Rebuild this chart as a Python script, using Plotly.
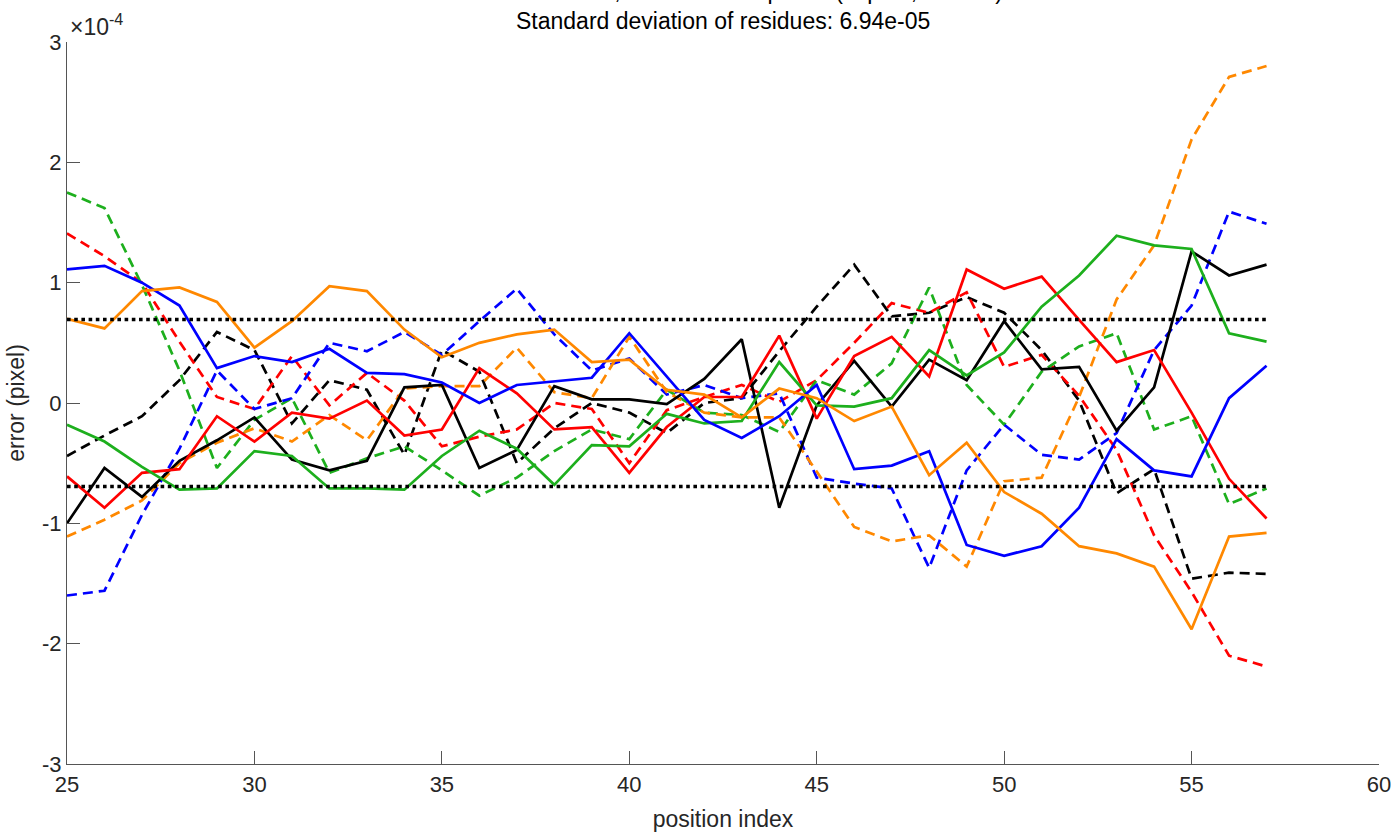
import plotly.graph_objects as go

x_idx = list(range(25, 58))
scale = 1e-4
std_res = 0.694

black_solid = [-1.0, -0.54, -0.78, -0.48, -0.31, -0.12, -0.47, -0.56, -0.48, 0.13, 0.15, -0.54, -0.39, 0.14, 0.03, 0.03, -0.01, 0.2, 0.53, -0.87, -0.02, 0.35, -0.03, 0.36, 0.19, 0.68, 0.28, 0.30, -0.23, 0.13, 1.26, 1.06, 1.15]
black_dash = [-0.44, -0.27, -0.11, 0.19, 0.59, 0.44, -0.17, 0.19, 0.11, -0.43, 0.44, 0.26, -0.5, -0.21, 0.0, -0.08, -0.25, 0.0, 0.04, 0.43, 0.8, 1.15, 0.72, 0.75, 0.88, 0.75, 0.44, 0.02, -0.75, -0.55, -1.46, -1.41, -1.42]
red_solid = [-0.61, -0.87, -0.58, -0.55, -0.11, -0.32, -0.08, -0.13, 0.02, -0.27, -0.22, 0.29, 0.08, -0.22, -0.2, -0.58, -0.2, 0.05, 0.05, 0.56, -0.13, 0.39, 0.55, 0.22, 1.11, 0.95, 1.05, 0.69, 0.34, 0.44, -0.08, -0.63, -0.96]
red_dash = [1.41, 1.22, 1.0, 0.51, 0.05, -0.05, 0.39, -0.02, 0.25, 0.02, -0.36, -0.28, -0.22, 0.0, -0.05, -0.5, -0.06, 0.05, 0.15, 0.01, 0.19, 0.5, 0.83, 0.75, 0.92, 0.3, 0.4, 0.06, -0.39, -1.1, -1.57, -2.1, -2.19]
green_solid = [-0.18, -0.32, -0.53, -0.72, -0.71, -0.4, -0.44, -0.71, -0.71, -0.72, -0.44, -0.23, -0.38, -0.68, -0.35, -0.36, -0.09, -0.17, -0.15, 0.34, -0.02, -0.03, 0.04, 0.44, 0.23, 0.42, 0.8, 1.06, 1.39, 1.31, 1.28, 0.58, 0.51]
green_dash = [1.75, 1.62, 0.98, 0.27, -0.54, -0.14, 0.04, -0.58, -0.46, -0.36, -0.56, -0.77, -0.62, -0.4, -0.22, -0.3, 0.11, -0.08, -0.1, -0.24, 0.19, 0.07, 0.33, 0.96, 0.15, -0.18, 0.26, 0.47, 0.58, -0.22, -0.11, -0.84, -0.71]
blue_solid = [1.11, 1.14, 1.0, 0.81, 0.29, 0.39, 0.34, 0.45, 0.25, 0.24, 0.17, 0.0, 0.15, 0.18, 0.21, 0.58, 0.22, -0.14, -0.29, -0.11, 0.15, -0.55, -0.52, -0.4, -1.18, -1.27, -1.19, -0.87, -0.3, -0.56, -0.61, 0.04, 0.31]
blue_dash = [-1.6, -1.56, -0.93, -0.38, 0.27, -0.05, 0.04, 0.5, 0.43, 0.59, 0.4, 0.68, 0.95, 0.57, 0.27, 0.37, 0.07, 0.15, 0.04, 0.08, -0.62, -0.67, -0.71, -1.37, -0.56, -0.18, -0.43, -0.47, -0.25, 0.44, 0.81, 1.59, 1.49]
orange_solid = [0.7, 0.62, 0.93, 0.96, 0.84, 0.46, 0.68, 0.97, 0.93, 0.61, 0.38, 0.5, 0.57, 0.61, 0.34, 0.36, 0.11, 0.07, -0.12, 0.12, 0.04, -0.15, -0.03, -0.6, -0.33, -0.74, -0.92, -1.19, -1.25, -1.36, -1.88, -1.11, -1.08]
orange_dash = [-1.11, -0.97, -0.81, -0.5, -0.33, -0.21, -0.32, -0.1, -0.31, 0.12, 0.14, 0.14, 0.46, 0.09, 0.04, 0.55, 0.09, -0.08, -0.12, -0.12, -0.57, -1.03, -1.15, -1.1, -1.36, -0.65, -0.62, 0.05, 0.86, 1.31, 2.19, 2.71, 2.8]

y_ticks = [-3, -2, -1, 0, 1, 2, 3]
x_ticks = [25, 30, 35, 40, 45, 50, 55, 60]

BLACK = "#000000"
RED = "#FF0000"
GREEN = "#1DAF1D"
BLUE = "#0000FF"
ORANGE = "#FF8800"

series = [
    (black_dash, BLACK, "dash"), (red_dash, RED, "dash"), (green_dash, GREEN, "dash"),
    (blue_dash, BLUE, "dash"), (orange_dash, ORANGE, "dash"),
    (black_solid, BLACK, "solid"), (red_solid, RED, "solid"), (green_solid, GREEN, "solid"),
    (blue_solid, BLUE, "solid"), (orange_solid, ORANGE, "solid"),
]

fig = go.Figure()
for vals, col, style in series:
    fig.add_trace(go.Scatter(
        x=x_idx, y=[v * scale for v in vals], mode="lines",
        line=dict(color=col, width=2.7, dash=("10px,6px" if style == "dash" else "solid")),
        showlegend=False, hoverinfo="skip"))

for s in (std_res, -std_res):
    fig.add_trace(go.Scatter(
        x=[x_idx[0], x_idx[-1]], y=[s * scale, s * scale], mode="lines",
        line=dict(color="#000000", width=3.6, dash="3.6px,3.6px"),
        showlegend=False, hoverinfo="skip"))

FONT = "Liberation Sans, Arial, Helvetica, sans-serif"
AX = "#262626"

fig.update_layout(
    width=1394, height=832,
    margin=dict(l=67, r=15, t=42, b=68),
    paper_bgcolor="white", plot_bgcolor="white",
    font=dict(family=FONT, size=22, color=AX),
    xaxis=dict(range=[25, 60], tickvals=x_ticks, ticks="inside", ticklen=13, tickwidth=1,
               tickcolor="#555555", showline=True, linecolor="#555555", linewidth=1.2,
               showgrid=False, zeroline=False, mirror=False, automargin=False,
               tickfont=dict(size=22, color=AX),
               title=dict(text="position index", font=dict(size=23, color=AX), standoff=19)),
    yaxis=dict(range=[-3e-4, 3e-4], tickvals=[t * scale for t in y_ticks],
               ticktext=[str(t) for t in y_ticks], ticks="inside", ticklen=13, tickwidth=1,
               tickcolor="#555555", showline=True, linecolor="#555555", linewidth=1.2,
               showgrid=False, zeroline=False, mirror=False, automargin=False,
               tickfont=dict(size=22, color=AX),
               title=dict(text="error (pixel)", font=dict(size=23, color=AX), standoff=10)),
    annotations=[
        dict(text="Deterministic residue errors, all calibration points (in plan, rotated) in microns",
             xref="paper", yref="paper", x=0.5, y=1.0, yshift=36, xanchor="center", yanchor="bottom",
             showarrow=False, font=dict(size=23, color="#000000")),
        dict(text="Standard deviation of residues: 6.94e-05",
             xref="paper", yref="paper", x=0.5, y=1.0, yshift=6, xanchor="center", yanchor="bottom",
             showarrow=False, font=dict(size=23, color="#000000")),
        dict(text="\u00d710<sup>-4</sup>", xref="paper", yref="paper", x=0, y=1.0, xshift=1,
             yshift=0, xanchor="left", yanchor="bottom", showarrow=False,
             font=dict(size=23, color=AX)),
    ],
)

fig.write_html("out.html")
